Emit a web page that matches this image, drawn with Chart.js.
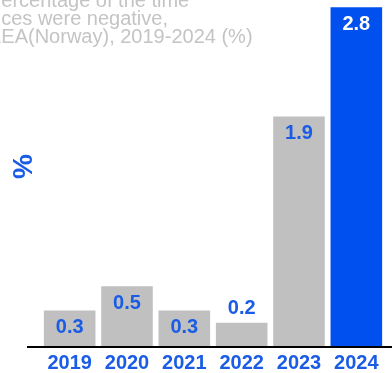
<!DOCTYPE html>
<html>
<head>
<meta charset="utf-8">
<script src="https://cdn.jsdelivr.net/npm/chart.js@4"></script>
<style>
  html, body { margin: 0; padding: 0; background: #fff; }
  #wrap { position: relative; width: 392px; height: 373px; overflow: hidden; }
</style>
</head>
<body>
<div id="wrap"><canvas id="negChart" width="392" height="373"></canvas></div>
<script>
// Share of hours with negative prices, per year
var years = ['2019', '2020', '2021', '2022', '2023', '2024'];
var shares = [0.3, 0.5, 0.3, 0.2, 1.9, 2.8];
var titleLines = ['Percentage of the time', 'prices were negative,', 'EEA(Norway), 2019-2024 (%)'];

var FONT = '"Liberation Sans", Arial, sans-serif';
var BLUE = '#0050f0';
var LABEL_BLUE = '#1a5ce6';
var GREY = '#c0c0c0';

// last year highlighted in blue
var barColors = years.map(function (y, i) { return i === years.length - 1 ? BLUE : GREY; });

// title text sits above the bars, partly running off the left edge
var titlePlugin = {
  id: 'titleText',
  afterDraw: function (chart) {
    var ctx = chart.ctx;
    var offsets = [-12, -21, -12];
    ctx.save();
    ctx.font = '20px ' + FONT;
    ctx.fillStyle = '#c4c4c4';
    ctx.textBaseline = 'alphabetic';
    ctx.textAlign = 'left';
    titleLines.forEach(function (line, i) {
      ctx.fillText(line, offsets[i], 7 + i * 18);
    });
    ctx.restore();
  }
};

// rotated unit label on the left
var unitLabel = {
  id: 'unitLabel',
  afterDraw: function (chart) {
    var ctx = chart.ctx;
    ctx.save();
    ctx.translate(24.5, 166.5);
    ctx.rotate(-Math.PI / 2);
    ctx.font = 'bold 28px ' + FONT;
    ctx.fillStyle = LABEL_BLUE;
    ctx.textAlign = 'center';
    ctx.textBaseline = 'middle';
    ctx.fillText('%', 0, 0);
    ctx.restore();
  }
};

// value labels inside the bar top, or above it when the bar is too short
var valueLabels = {
  id: 'valueLabels',
  afterDatasetsDraw: function (chart) {
    var ctx = chart.ctx;
    var meta = chart.getDatasetMeta(0);
    ctx.save();
    ctx.font = 'bold 20px ' + FONT;
    ctx.textAlign = 'center';
    ctx.textBaseline = 'middle';
    meta.data.forEach(function (bar, i) {
      var h = bar.base - bar.y;
      var y = h < 28 ? bar.y - 14 : bar.y + 17;
      ctx.fillStyle = i === years.length - 1 ? '#ffffff' : LABEL_BLUE;
      ctx.fillText(shares[i].toFixed(1), bar.x, y);
    });
    ctx.restore();
  }
};

// black baseline running from the left of the plot to the right edge
var baseline = {
  id: 'baseline',
  afterDatasetsDraw: function (chart) {
    var ctx = chart.ctx;
    var y0 = chart.scales.y.getPixelForValue(0);
    ctx.save();
    ctx.strokeStyle = '#000';
    ctx.lineWidth = 2;
    ctx.beginPath();
    ctx.moveTo(27, y0);
    ctx.lineTo(chart.width, y0);
    ctx.stroke();
    ctx.restore();
  }
};

new Chart(document.getElementById('negChart').getContext('2d'), {
  type: 'bar',
  data: {
    labels: years,
    datasets: [{
      data: shares,
      backgroundColor: barColors,
      borderWidth: 0,
      barPercentage: 0.9,
      categoryPercentage: 1.0
    }]
  },
  options: {
    responsive: false,
    animation: false,
    layout: { padding: { left: 41, right: 7, top: 0, bottom: -6 } },
    plugins: {
      legend: { display: false },
      tooltip: { enabled: false }
    },
    scales: {
      x: {
        grid: { display: false, drawTicks: false },
        border: { display: false },
        ticks: {
          color: LABEL_BLUE,
          padding: 4,
          font: { family: FONT, size: 20, weight: 'bold' }
        }
      },
      y: {
        display: false,
        min: 0,
        max: 2.86
      }
    }
  },
  plugins: [baseline, valueLabels, titlePlugin, unitLabel]
});
</script>
</body>
</html>
